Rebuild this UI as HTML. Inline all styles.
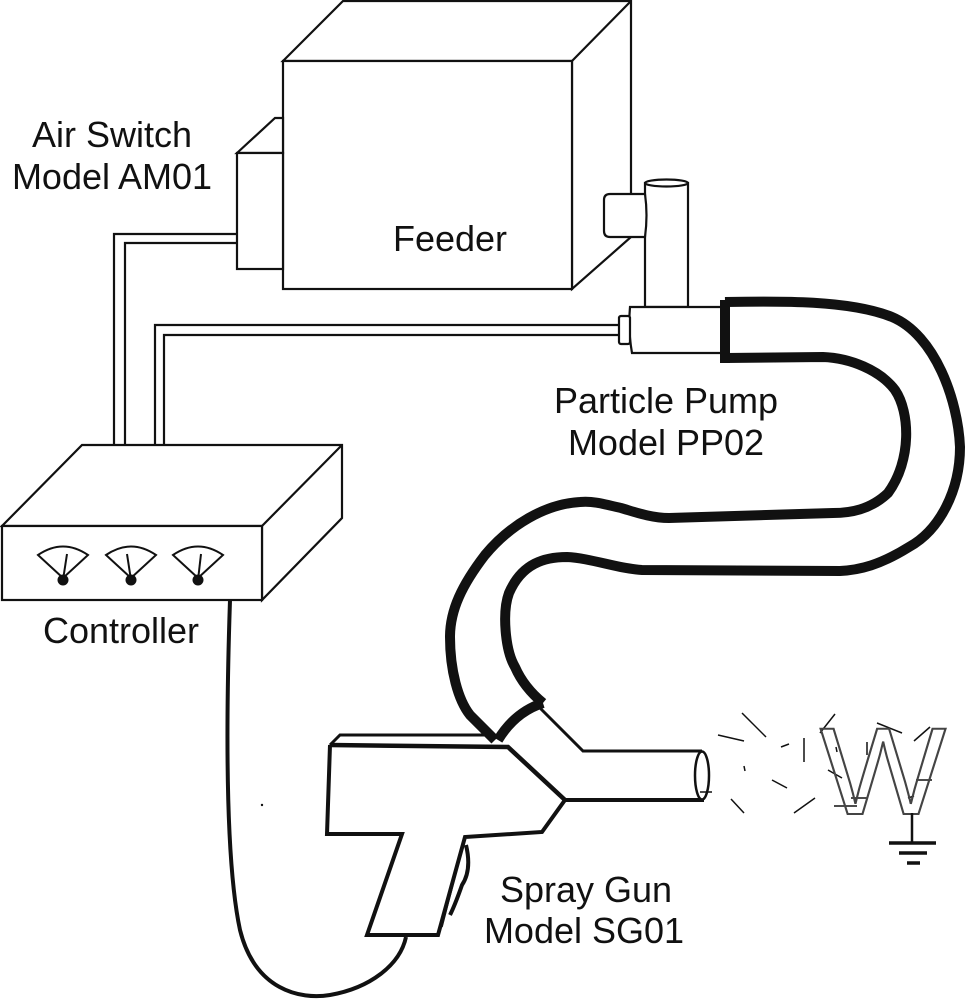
<!DOCTYPE html>
<html><head><meta charset="utf-8"><style>
html,body{margin:0;padding:0;background:#fff;}
svg{display:block;}
text{font-family:"Liberation Sans",Arial,sans-serif;fill:#111;}
</style></head><body>
<svg width="966" height="1000" viewBox="0 0 966 1000">
<g fill="#fff" stroke="#111" stroke-width="2.2" stroke-linejoin="miter">
  <g>
    <polygon points="283,61 343,1 631,1 631,237 572,289 572,61"/>
    <line x1="572" y1="61" x2="631" y2="1"/>
    <rect x="283" y="61" width="289" height="228"/>
  </g>
  <g>
    <polygon points="237,153 275,118 283,118 283,153"/>
    <rect x="237" y="153" width="46" height="116"/>
  </g>
  <g fill="none">
    <polyline points="237,234 114,234 114,445"/>
    <polyline points="237,243 125,243 125,445"/>
  </g>
  <g fill="none">
    <polyline points="619,325 155,325 155,445"/>
    <polyline points="619,335 164,335 164,445"/>
  </g>
  <g>
    <polygon points="82,445 342,445 342,518 262,600 262,526 2,526"/>
    <line x1="262" y1="526" x2="342" y2="445"/>
    <rect x="2" y="526" width="260" height="74"/>
  </g>
  <g>
    <rect x="645" y="183" width="43" height="124"/>
    <ellipse cx="666.5" cy="183" rx="21.5" ry="3.5"/>
    <path d="M604,200 Q604,194 610,194 L645,194 Q648,215 645,237 L610,237 Q604,237 604,231 Z"/>
    <path d="M630,307 L722,307 L722,353 L632,353 Q628,330 630,307 Z"/>
    <rect x="619" y="316" width="11" height="28" rx="2"/>
  </g>
</g>
<g stroke="#111" stroke-width="2" fill="#fff">
  <g>
    <path d="M63,578 L38,555 Q63,538 88,555 Z"/>
    <line x1="63" y1="580" x2="67" y2="554"/>
    <circle cx="63" cy="580" r="4.5" fill="#111"/>
  </g>
  <g>
    <path d="M131,578 L106,555 Q131,538 156,555 Z"/>
    <line x1="131" y1="580" x2="127" y2="554"/>
    <circle cx="131" cy="580" r="4.5" fill="#111"/>
  </g>
  <g>
    <path d="M198,578 L173,555 Q198,538 223,555 Z"/>
    <line x1="198" y1="580" x2="201" y2="554"/>
    <circle cx="198" cy="580" r="4.5" fill="#111"/>
  </g>
</g>
<path d="M230,600 C226,720 225,860 240,930 C255,990 300,1000 330,995 C370,988 400,965 406,937" fill="none" stroke="#111" stroke-width="4"/>
<circle cx="262" cy="805" r="1.2" fill="#111"/>
<g fill="none" stroke="#111" stroke-width="10" stroke-linecap="butt">
  <path d="M725,302 C780,301 850,300 892,317 C935,335 958,400 960,447 C960,490 940,530 909,547 C880,565 860,570 840,571 L642,570 C620,569 590,558 567,557 C545,557 522,563 509,593 C502,612 505,650 515,667 C522,683 532,694 543,703"/>
  <path d="M725,358 L823,357 C850,358 880,370 895,390 C910,412 912,460 888,493 C870,510 850,513 833,513 L669,518 C650,518 632,511 621,508 C600,503 592,501 580,502 C545,504 510,525 485,555 C462,585 450,610 450,637 C450,670 458,700 470,715 L495,740"/>
  <path d="M725,300 L725,363"/>
  <path d="M498,740 Q515,712 543,703"/>
</g>
<g fill="none" stroke="#111" stroke-linejoin="miter">
  <path d="M540,708 L583,751 L702,751" stroke-width="3"/>
  <path d="M330,745 L340,735 L491,735" stroke-width="3"/>
  <path d="M330,745 L508,747 L565,800" stroke-width="4.5"/>
  <path d="M330,745 L327,834 L402,834 L367,935 L438,935 L465,837 L542,832 L565,800 L704,800" stroke-width="4"/>
  <ellipse cx="702" cy="775.5" rx="7" ry="24" stroke-width="2.5" fill="#fff"/>
  <path d="M465,838 L442,927" stroke-width="1.5"/>
  <path d="M466,845 Q472,870 462,885 Q455,905 450,915" stroke-width="4"/>
  <line x1="700" y1="792" x2="712" y2="792" stroke-width="1.5"/>
</g>
<g stroke="#111" stroke-width="1.5">
  <line x1="718" y1="735" x2="744" y2="741"/>
  <line x1="742" y1="713" x2="766" y2="737"/>
  <line x1="781" y1="747" x2="789" y2="744"/>
  <line x1="804" y1="738" x2="804" y2="762"/>
  <line x1="744" y1="766" x2="745" y2="771"/>
  <line x1="772" y1="780" x2="787" y2="788"/>
  <line x1="731" y1="799" x2="744" y2="813"/>
  <line x1="794" y1="813" x2="815" y2="798"/>
  <line x1="820" y1="733" x2="835" y2="714"/>
  <line x1="877" y1="723" x2="902" y2="733"/>
  <line x1="914" y1="741" x2="930" y2="727"/>
  <line x1="828" y1="770" x2="842" y2="778"/>
  <line x1="834" y1="806" x2="857" y2="806"/>
  <line x1="851" y1="798" x2="867" y2="798"/>
  <line x1="916" y1="780" x2="932" y2="780"/>
  <line x1="908" y1="798" x2="914" y2="796"/>
  <line x1="867" y1="742" x2="867" y2="755"/>
  <line x1="836" y1="747" x2="837" y2="752"/>
</g>
<text x="820" y="814" font-size="124" textLength="126" lengthAdjust="spacingAndGlyphs" style="fill:none;stroke:#444;stroke-width:2">W</text>
<g stroke="#111">
  <line x1="912" y1="813" x2="912" y2="843" stroke-width="2.5"/>
  <line x1="889" y1="843" x2="936" y2="843" stroke-width="3.5"/>
  <line x1="899" y1="853" x2="927" y2="853" stroke-width="3.5"/>
  <line x1="907" y1="863" x2="920" y2="863" stroke-width="3.5"/>
</g>
<g font-size="36">
  <text x="112" y="147" text-anchor="middle">Air Switch</text>
  <text x="112" y="189" text-anchor="middle">Model AM01</text>
  <text x="450" y="251" text-anchor="middle">Feeder</text>
  <text x="666" y="413" text-anchor="middle">Particle Pump</text>
  <text x="666" y="455" text-anchor="middle">Model PP02</text>
  <text x="121" y="643" text-anchor="middle">Controller</text>
  <text x="586" y="902" text-anchor="middle">Spray Gun</text>
  <text x="584" y="943" text-anchor="middle">Model SG01</text>
</g>
</svg>
</body></html>
